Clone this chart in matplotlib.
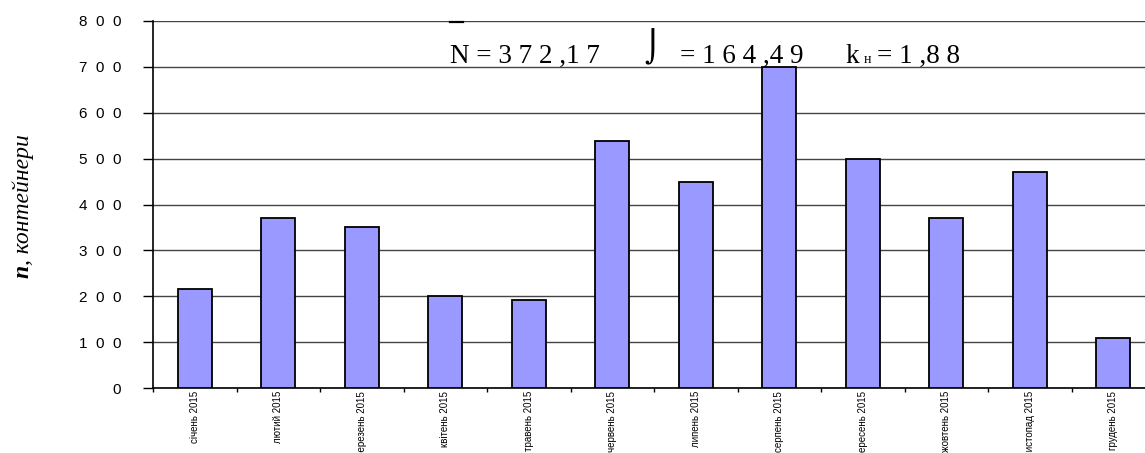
import matplotlib.pyplot as plt
from matplotlib.lines import Line2D

# Кількість контейнерів по місяцях 2015 року
months = ['січень 2015', 'лютий 2015', 'березень 2015', 'квітень 2015',
          'травень 2015', 'червень 2015', 'липень 2015', 'серпень 2015',
          'вересень 2015', 'жовтень 2015', 'листопад 2015', 'грудень 2015']
containers = [216, 370, 350, 200, 192, 538, 450, 700, 500, 370, 470, 110]
y_ticks = [0, 100, 200, 300, 400, 500, 600, 700, 800]

W, H = 1145, 453
fig = plt.figure(figsize=(W / 100, H / 100), dpi=100)
fig.patch.set_facecolor('white')

# область графіка виходить за правий край (як в Excel)
ax = fig.add_axes([153 / W, (H - 388) / H, 1002 / W, 367 / H])

x = list(range(len(months)))
ax.bar(x, containers, width=0.41, color='#9999ff', edgecolor='black',
       linewidth=1.3, zorder=3)

ax.set_xlim(-0.5, len(months) - 0.5)
ax.set_ylim(0, 800)
ax.set_yticks(y_ticks)
ax.set_yticklabels(['  '.join(str(v)) for v in y_ticks],
                   family='Liberation Sans', fontsize=11)
ax.yaxis.grid(True, color='#444444', linewidth=1.0, zorder=0)
ax.tick_params(axis='y', direction='out', length=7, width=1, pad=16)

# мітки по межах категорій, підписи по центру стовпців
ax.set_xticks([i - 0.5 for i in range(len(months) + 1)])
ax.set_xticklabels([])
ax.set_xticks(x, minor=True)
ax.set_xticklabels(months, minor=True, rotation=90, va='top', ha='center',
                   family='Liberation Sans', fontsize=7.0)
ax.tick_params(axis='x', which='major', direction='out', length=3, width=1)
ax.tick_params(axis='x', which='minor', length=0, pad=2)

for s in ['top', 'right']:
    ax.spines[s].set_visible(False)
ax.spines['left'].set_linewidth(1.2)
ax.spines['bottom'].set_linewidth(1.2)

# статистичні показники
def ftext(px, py, s, va='baseline', **kw):
    return fig.text(px / W, 1 - py / H, s, va=va, ha='left', **kw)

serif = dict(family='Liberation Serif', fontsize=19.5)
ftext(450, 63, 'N = 3 7 2 ,1 7', **serif)
ftext(644, 28, '⌡', va='top', family=['DejaVu Serif', 'DejaVu Sans'],
      fontsize=22)
ftext(680, 63, '= 1 6 4 ,4 9', **serif)
ftext(845, 63, 'k', **serif)
ftext(864, 63, 'н', family='Liberation Serif', fontsize=10)
ftext(877, 63, '= 1 ,8 8', **serif)
fig.add_artist(Line2D([450 / W, 463 / W], [1 - 22 / H, 1 - 22 / H],
                      color='black', linewidth=1.6))

# підпис осі y
t1 = fig.text(23 / W, 1 - 278 / H, 'n', rotation=90, rotation_mode='anchor',
              ha='left', va='center', family='Liberation Serif',
              style='italic', weight='bold', fontsize=17)
fig.canvas.draw()
bb = t1.get_window_extent()
fig.text(23 / W, bb.y1 / H, ', контейнери', rotation=90, rotation_mode='anchor',
         ha='left', va='center', family='Liberation Serif', style='italic',
         fontsize=17)

fig.savefig('out.png', dpi=100)
